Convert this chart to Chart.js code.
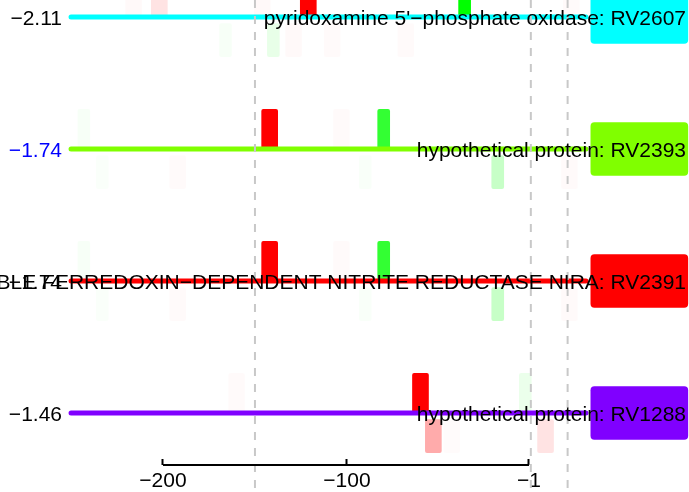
<!DOCTYPE html>
<html lang="en">

<head>
  <meta charset="UTF-8" />
  <title>Upstream sites</title>
  <script src="https://cdn.jsdelivr.net/npm/chart.js"></script>
  <style>
    html, body { margin: 0; padding: 0; background: #fff; }
    #wrap { width: 689px; height: 492px; }
  </style>
</head>

<body>
  <div id="wrap"><canvas id="sitesChart"></canvas></div>

  <script>
    // one row per gene, top to bottom
    const geneLabels = [
      "pyridoxamine 5'\u2212phosphate oxidase: RV2607",
      "hypothetical protein: RV2393",
      "PROBABLE FERREDOXIN\u2212DEPENDENT NITRITE REDUCTASE NIRA: RV2391",
      "hypothetical protein: RV1288"
    ];
    const geneScores = [-2.11, -1.74, -1.74, -1.46];
    const geneColors = ["#00FFFF", "#80FF00", "#FF0000", "#8000FF"];
    const geneStart = [-250, -250, -250, -250];
    const geneEnd = [30, 30, 30, 30];

    const xTicks = [-200, -100, -1];
    const refLines = [-150, 0, 20];

    // binding sites: row, position, strand (1 = above line, -1 = below), type (r/g), strength
    const siteRow = [0, 0, 0, 0, 0, 0, 0, 0, 0, 0, 0,
      1, 1, 1, 1, 1, 1, 1, 1, 1,
      2, 2, 2, 2, 2, 2, 2, 2, 2,
      3, 3, 3, 3, 3, 3];
    const sitePos = [-216, -202, -146, -121, -36, 22, -166, -140, -129, -108, -68,
      -243, -142, -103, -80, -233, -192, -90, -18, 21,
      -243, -142, -103, -80, -233, -192, -90, -18, 21,
      -160, -60, -3, -53, -43, 8];
    const siteStrand = [1, 1, 1, 1, 1, 1, -1, -1, -1, -1, -1,
      1, 1, 1, 1, -1, -1, -1, -1, -1,
      1, 1, 1, 1, -1, -1, -1, -1, -1,
      1, 1, 1, -1, -1, -1];
    const siteType = ["r", "r", "r", "r", "g", "r", "g", "g", "r", "r", "r",
      "g", "r", "r", "g", "g", "r", "g", "g", "r",
      "g", "r", "r", "g", "g", "r", "g", "g", "r",
      "r", "r", "g", "r", "r", "r"];
    const siteStrength = [0.025, 0.11, 0.025, 1, 1, 0.02, 0.03, 0.09, 0.025, 0.02, 0.02,
      0.03, 1, 0.02, 0.8, 0.02, 0.02, 0.025, 0.22, 0.02,
      0.03, 1, 0.02, 0.8, 0.02, 0.02, 0.025, 0.22, 0.02,
      0.02, 1, 0.08, 0.33, 0.015, 0.11];

    const FONT = { family: "'Liberation Sans', Arial, sans-serif", size: 21 };
    const Y_MIN = -17 / 132;
    const Y_MAX = Y_MIN + 465 / 132;
    const BOX_X = 59;

    function minus(v) {
      return v < 0 ? "\u2212" + Math.abs(v) : String(v);
    }

    function siteData(type) {
      const pts = [];
      const colors = [];
      for (let i = 0; i < sitePos.length; i++) {
        if (siteType[i] !== type) continue;
        const r = siteRow[i];
        const span = siteStrand[i] > 0 ? [r - 0.3, r] : [r + 0.05, r + 0.3];
        pts.push({ x: sitePos[i], y: span });
        const rgb = type === "r" ? "255,0,0" : "0,255,0";
        colors.push(`rgba(${rgb},${siteStrength[i]})`);
      }
      return { pts, colors };
    }

    const reds = siteData("r");
    const greens = siteData("g");

    const datasets = [];

    // x axis line
    datasets.push({
      type: "line",
      data: [{ x: xTicks[0], y: Y_MAX }, { x: xTicks[xTicks.length - 1], y: Y_MAX }],
      borderColor: "#000",
      borderWidth: 2,
      pointRadius: 0,
      clip: false,
      order: 0
    });

    refLines.forEach(function (x) {
      datasets.push({
        type: "line",
        data: [{ x: x, y: Y_MIN }, { x: x, y: Y_MAX + 0.25 }],
        borderColor: "#c8c8c8",
        borderWidth: 2,
        borderDash: [8, 8],
        pointRadius: 0,
        clip: false,
        order: 1
      });
    });

    geneLabels.forEach(function (g, i) {
      datasets.push({
        type: "line",
        data: [{ x: geneStart[i], y: i }, { x: geneEnd[i], y: i }],
        borderColor: geneColors[i],
        borderWidth: 5,
        borderCapStyle: "round",
        pointRadius: 0,
        order: 2
      });
    });

    datasets.push({
      type: "bar",
      data: reds.pts,
      backgroundColor: reds.colors,
      barThickness: 16,
      grouped: false,
      borderRadius: 2,
      borderSkipped: false,
      order: 3
    });
    datasets.push({
      type: "bar",
      data: greens.pts,
      backgroundColor: greens.colors,
      barThickness: 12,
      grouped: false,
      borderRadius: 2,
      borderSkipped: false,
      order: 3
    });

    // coloured label boxes
    datasets.push({
      type: "bar",
      data: geneLabels.map((g, i) => ({ x: BOX_X, y: [i - 0.2, i + 0.2] })),
      backgroundColor: geneColors,
      barThickness: 97,
      grouped: false,
      borderRadius: 4,
      borderSkipped: false,
      order: 4
    });

    function rowTicks(s) {
      s.ticks = geneLabels.map((g, i) => ({ value: i }));
    }
    function noPad(s) {
      s.paddingTop = 0; s.paddingBottom = 0; s.paddingLeft = 0; s.paddingRight = 0;
    }

    const config = {
      type: "bar",
      data: { datasets: datasets },
      options: {
        responsive: true,
        maintainAspectRatio: false,
        animation: false,
        layout: { padding: 0, autoPadding: false },
        plugins: { legend: { display: false }, tooltip: { enabled: false } },
        scales: {
          x: {
            type: "linear",
            min: -252.74,
            max: 86.0,
            offset: false,
            grid: {
              display: true,
              offset: false,
              drawOnChartArea: false,
              drawTicks: true,
              tickLength: -6,
              tickColor: "#000",
              tickWidth: 2
            },
            border: { display: false },
            ticks: {
              font: FONT,
              color: "#000",
              padding: 10,
              maxRotation: 0,
              autoSkip: false,
              callback: (v) => minus(v)
            },
            afterBuildTicks: (s) => { s.ticks = xTicks.map((v) => ({ value: v })); },
            afterFit: (s) => { s.height = 27; noPad(s); }
          },
          y: {
            type: "linear",
            position: "left",
            reverse: true,
            min: Y_MIN,
            max: Y_MAX,
            grid: { display: false, drawTicks: false },
            border: { display: false },
            ticks: {
              font: FONT,
              padding: 4,
              labelOffset: 2,
              z: 1,
              color: (ctx) => (ctx.index === 1 ? "#0000FF" : "#000"),
              callback: (v) => minus(geneScores[v])
            },
            afterBuildTicks: rowTicks,
            afterFit: (s) => { s.width = 66; noPad(s); }
          },
          y2: {
            type: "linear",
            position: "right",
            reverse: true,
            min: Y_MIN,
            max: Y_MAX,
            grid: { display: false, drawTicks: false },
            border: { display: false },
            ticks: {
              font: FONT,
              color: "#000",
              mirror: true,
              padding: -3,
              labelOffset: 2,
              z: 1,
              callback: (v) => geneLabels[v]
            },
            afterBuildTicks: rowTicks,
            afterFit: (s) => { s.width = 0; noPad(s); }
          }
        }
      }
    };

    const sitesChart = new Chart(document.getElementById("sitesChart"), config);
  </script>
</body>

</html>
